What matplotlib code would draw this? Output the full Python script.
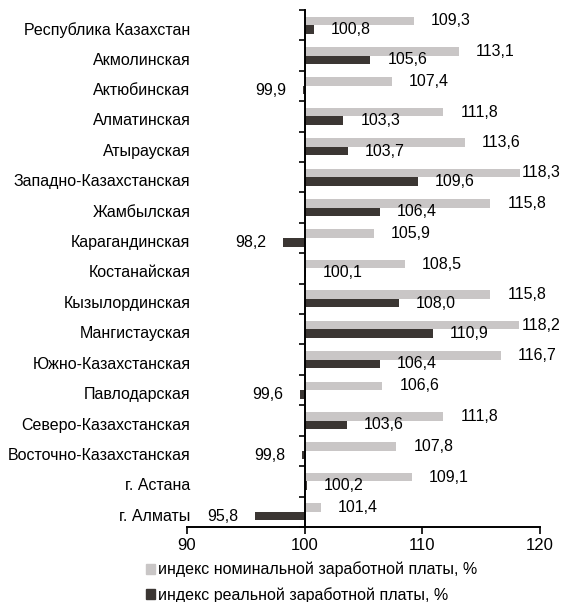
"""
Horizontal bar chart: nominal and real wage indices by region of Kazakhstan.
"""

import matplotlib.pyplot as plt
from matplotlib.patches import Patch

plt.rcParams['font.family'] = ['Liberation Sans', 'DejaVu Sans']

regions = [
    'Республика Казахстан', 'Акмолинская', 'Актюбинская', 'Алматинская',
    'Атырауская', 'Западно-Казахстанская', 'Жамбылская', 'Карагандинская',
    'Костанайская', 'Кызылординская', 'Мангистауская', 'Южно-Казахстанская',
    'Павлодарская', 'Северо-Казахстанская', 'Восточно-Казахстанская',
    'г. Астана', 'г. Алматы',
]
nominal = [109.3, 113.1, 107.4, 111.8, 113.6, 118.3, 115.8, 105.9, 108.5,
           115.8, 118.2, 116.7, 106.6, 111.8, 107.8, 109.1, 101.4]
real = [100.8, 105.6, 99.9, 103.3, 103.7, 109.6, 106.4, 98.2, 100.1,
        108.0, 110.9, 106.4, 99.6, 103.6, 99.8, 100.2, 95.8]
x_ticks = [90, 100, 110, 120]
legend_labels = ['индекс номинальной заработной платы, %',
                 'индекс реальной заработной платы, %']

light = '#c9c6c6'
dark = '#3b3633'
base = 100
fs = 11.5

fig = plt.figure(figsize=(5.63, 6.02), dpi=100)
ax = fig.add_axes([0.332, 0.1246, 0.627, 0.859])

ys = list(range(len(regions)))
h = 0.28
ax.barh([y - 0.14 for y in ys], [v - base for v in nominal], left=base,
        height=h, color=light)
ax.barh([y + 0.14 for y in ys], [v - base for v in real], left=base,
        height=h, color=dark)

def fmt(v):
    return f'{v:.1f}'.replace('.', ',')

off = 1.45
for y, v in zip(ys, nominal):
    ax.text(min(v + off, 118.45), y - 0.14, fmt(v), ha='left', va='center',
            fontsize=fs)
for y, v in zip(ys, real):
    if v >= base:
        ax.text(v + off, y + 0.14, fmt(v), ha='left', va='center', fontsize=fs)
    else:
        ax.text(v - off, y + 0.14, fmt(v), ha='right', va='center', fontsize=fs)

for y, name in zip(ys, regions):
    ax.text(90.3, y + 0.15, name, ha='right', va='center', fontsize=fs)

ax.set_xlim(90, 120)
ax.set_ylim(len(regions) - 0.5, -0.5)
ax.set_xticks(x_ticks)
ax.set_xticklabels([str(t) for t in x_ticks], fontsize=12)
ax.set_yticks([y - 0.5 for y in range(len(regions) + 1)])
ax.set_yticklabels([])

ax.spines['top'].set_visible(False)
ax.spines['right'].set_visible(False)
ax.spines['left'].set_position(('data', base))
ax.spines['left'].set_linewidth(1.4)
ax.spines['bottom'].set_linewidth(1.4)
ax.tick_params(axis='y', direction='out', length=4, width=1.2)
ax.tick_params(axis='x', direction='out', length=5, width=1.2, pad=3)

handles = [Patch(color=light), Patch(color=dark)]
fig.legend(handles, legend_labels, loc='upper left', bbox_to_anchor=(0.26, 0.067),
           frameon=False, fontsize=fs, handlelength=0.55, handleheight=0.55,
           handletextpad=0.15, labelspacing=0.6, borderaxespad=0, borderpad=0)

fig.savefig('out.png', dpi=100)
